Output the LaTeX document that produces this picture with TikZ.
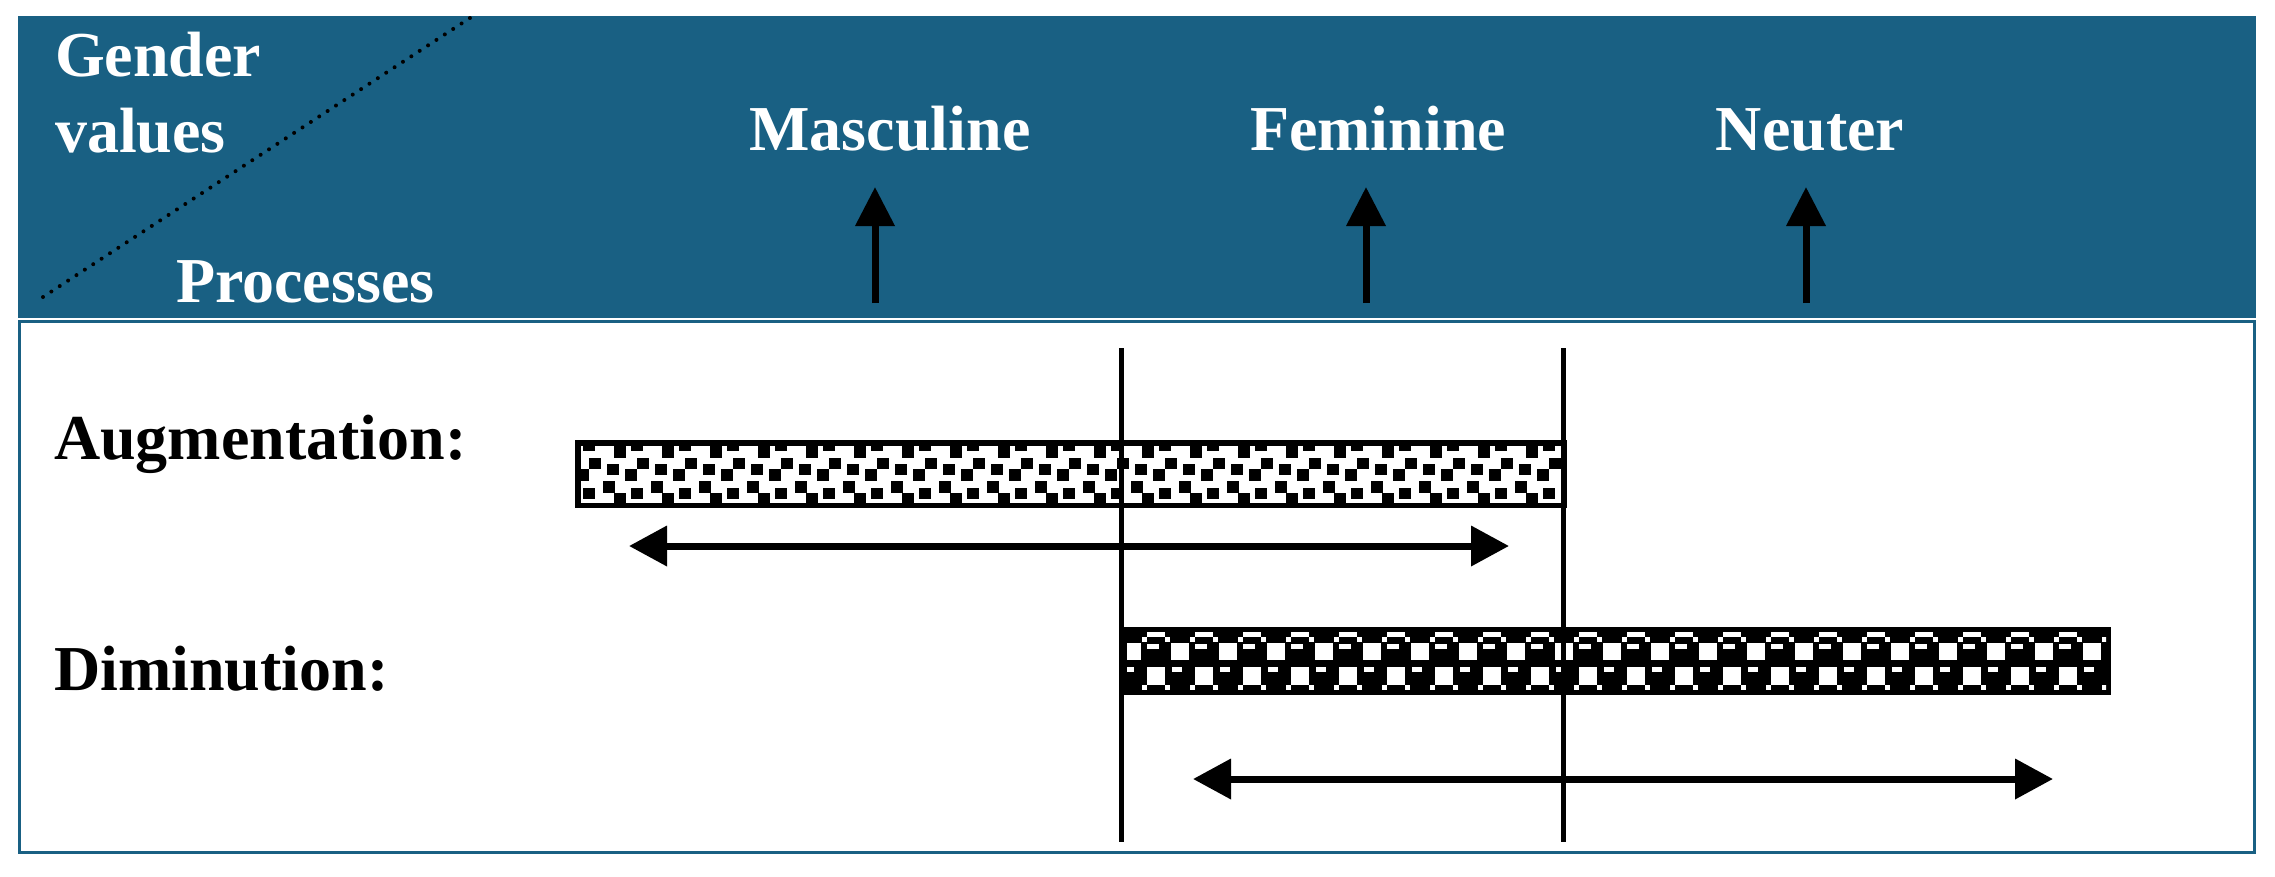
\documentclass[tikz,border=0pt]{standalone}
\usepackage{fontspec}
\setmainfont{Liberation Serif}
\usetikzlibrary{arrows.meta}
\definecolor{hdrblue}{RGB}{25,96,131}
\begin{document}
\begin{tikzpicture}[x=1pt,y=-1pt,
  hdr/.style={text=white,font=\fontsize{64}{76}\selectfont\bfseries,inner sep=0pt},
  lbl/.style={text=black,font=\fontsize{64}{76}\selectfont\bfseries,inner sep=0pt},
  uparrow/.style={line width=7pt,-{Triangle[length=39pt,width=38pt]}},
  dblarrow/.style={line width=7pt,{Triangle[length=38pt,width=39pt]}-{Triangle[length=38pt,width=39pt]}},
  vline/.style={line width=5pt},
  barbox/.style={draw=black,line width=5.5pt,inner sep=0pt,fill=none},
]
\useasboundingbox (0,0) rectangle (2275,876);
% frame
\fill[hdrblue] (18,16) rectangle (2256,318);
\draw[hdrblue,line width=2pt] (20,321) -- (2256,321);
\draw[hdrblue,line width=3pt] (19.5,321) rectangle (2254.5,852.5);
% diagonal
\coordinate (dA) at (43,297);
\coordinate (dB) at (473,16);
\draw[black,line width=4pt,dash pattern=on 0pt off 10pt,line cap=round] (dA) -- (dB);
% header texts
\node[hdr,anchor=base west] (gender) at (55,76) {Gender};
\node[hdr,anchor=base west] (values) at (55,152) {values};
\node[hdr,anchor=base west] (proc) at (176,302) {Processes};
\node[hdr,anchor=base] (masc) at (890,150) {Masculine};
\node[hdr,anchor=base] (fem) at (1378,150) {Feminine};
\node[hdr,anchor=base] (neut) at (1810,150) {Neuter};
% up arrows
\coordinate (m0) at (875,303); \coordinate (m1) at (875,187);
\coordinate (f0) at (1366,303); \coordinate (f1) at (1366,187);
\coordinate (n0) at (1806,303); \coordinate (n1) at (1806,187);
\draw[uparrow] (m0) -- (m1);
\draw[uparrow] (f0) -- (f1);
\draw[uparrow] (n0) -- (n1);
% labels
\node[lbl,anchor=base west] (aug) at (54,459) {Augmentation:};
\node[lbl,anchor=base west] (dim) at (54,690) {Diminution:};
% augmentation bar pattern
\begin{scope}
\clip (580,445) rectangle (1562,503);
\foreach \k in {-3,...,18}{
  \foreach \dx/\yy/\hh in {0/446/12,17/439/12,23/458/11,41/464/11,11/469/12,37/481/12,17/488/11,0/493/12}{
    \fill[black] ({710+48*\k+\dx},\yy) rectangle ++(12,\hh);
  }
}
\end{scope}
\node[barbox,minimum width=986.5pt,minimum height=62.5pt] (augbar) at (1071,474) {};
% diminution bar pattern
\fill[black] (1122,627) rectangle (2111,695);
\begin{scope}
\clip (1127,632) rectangle (2106,690);
\foreach \k in {-2,...,19}{
  \foreach \dx/\yy/\ww/\hh in {-9/632/18/5,-14/637/5/5,9/637/5/5,15/643/18/17,-9/644/12/5,-9/667/18/18,16/667/10/5,-14/685/5/5,9/685/5/5}{
    \fill[white] ({1204+48*\k+\dx},\yy) rectangle ++(\ww,\hh);
  }
}
\end{scope}
\node[inner sep=0pt,minimum width=989pt,minimum height=68pt] (dimbar) at (1616.5,661) {};
% vertical lines
\coordinate (v1a) at (1121.5,348); \coordinate (v1b) at (1121.5,842);
\coordinate (v2a) at (1563,348); \coordinate (v2b) at (1563,842);
\draw[vline] (v1a) -- (v1b);
\draw[vline] (v2a) -- (v2b);
% double arrows
\coordinate (a0) at (629,546); \coordinate (a1) at (1509,546);
\coordinate (b0) at (1193,779); \coordinate (b1) at (2053,779);
\draw[dblarrow] (a0) -- (a1);
\draw[dblarrow] (b0) -- (b1);
\end{tikzpicture}
\end{document}
